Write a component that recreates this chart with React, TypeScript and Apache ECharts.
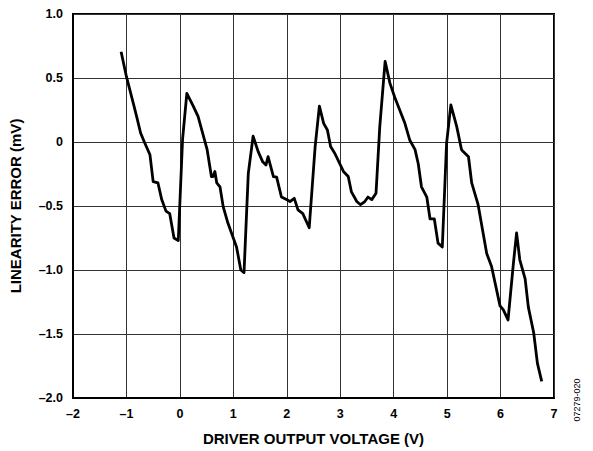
import React, { useEffect, useRef } from "react";
import * as echarts from "echarts";

const xValues = [
  -1.10, -1.0, -0.87, -0.81, -0.735, -0.655, -0.56, -0.50, -0.41, -0.34, -0.26, -0.19, -0.11, -0.03,
  0.05, 0.13, 0.25, 0.34, 0.51, 0.59, 0.62, 0.655, 0.69, 0.75, 0.81, 0.90, 1.06, 1.14, 1.20,
  1.28, 1.37, 1.465, 1.55, 1.61, 1.65, 1.75, 1.81, 1.90, 1.995, 2.06, 2.14, 2.21, 2.30, 2.42,
  2.53, 2.61, 2.69, 2.76, 2.82, 2.90, 3.06, 3.15, 3.21, 3.31, 3.38, 3.46, 3.52, 3.59, 3.67,
  3.74, 3.84, 3.93, 4.02, 4.21, 4.30, 4.40, 4.46, 4.52, 4.62, 4.68, 4.76, 4.83, 4.91,
  4.99, 5.07, 5.18, 5.27, 5.30, 5.40, 5.46, 5.58, 5.74, 5.83, 5.99, 6.05, 6.14,
  6.24, 6.30, 6.36, 6.46, 6.52, 6.62, 6.69, 6.77,
];
const errorValues = [
  0.705, 0.51, 0.30, 0.20, 0.07, -0.01, -0.10, -0.31, -0.32, -0.45, -0.54, -0.56, -0.75, -0.77,
  0.02, 0.38, 0.28, 0.20, -0.06, -0.27, -0.27, -0.23, -0.32, -0.35, -0.505, -0.635, -0.82, -1.0, -1.02,
  -0.245, 0.045, -0.075, -0.155, -0.18, -0.115, -0.27, -0.275, -0.43, -0.45, -0.465, -0.44, -0.53, -0.56, -0.67,
  -0.04, 0.28, 0.146, 0.094, -0.036, -0.09, -0.23, -0.27, -0.39, -0.465, -0.49, -0.465, -0.43, -0.45, -0.40,
  0.12, 0.63, 0.46, 0.35, 0.146, 0.016, -0.06, -0.17, -0.35, -0.43, -0.60, -0.60, -0.79, -0.82,
  -0.01, 0.29, 0.12, -0.06, -0.075, -0.115, -0.32, -0.49, -0.87, -0.97, -1.28, -1.31, -1.39,
  -0.95, -0.71, -0.92, -1.07, -1.29, -1.49, -1.73, -1.87,
];

const xTickLabels: Record<string, string> = {
  "-2": "\u20132", "-1": "\u20131", "0": "0", "1": "1", "2": "2", "3": "3", "4": "4", "5": "5", "6": "6", "7": "7",
};
const yTickLabels: Record<string, string> = {
  "1": "1.0", "0.5": "0.5", "0": "0", "-0.5": "\u20130.5", "-1": "\u20131.0", "-1.5": "\u20131.5", "-2": "\u20132.0",
};

const FONT = "'Liberation Sans', Arial, sans-serif";

export default function App() {
  const ref = useRef<HTMLDivElement>(null);
  useEffect(() => {
    if (!ref.current) return;
    const chart = echarts.init(ref.current, null, { renderer: "svg" });
    const data = xValues.map((x, i) => [x, errorValues[i]]);
    chart.setOption({
      animation: false,
      backgroundColor: "#fff",
      grid: {
        left: 73, right: 39, top: 14, bottom: 53,
        show: true, borderColor: "#000", borderWidth: 2, backgroundColor: "transparent",
      },
      xAxis: {
        type: "value", min: -2, max: 7, interval: 1,
        name: "DRIVER OUTPUT VOLTAGE (V)", nameLocation: "middle", nameGap: 33,
        nameTextStyle: { fontFamily: FONT, fontWeight: "bold", fontSize: 15, color: "#000" },
        axisLine: { show: true, onZero: false, lineStyle: { color: "#000", width: 2 } },
        axisTick: { show: false },
        axisLabel: {
          fontFamily: FONT, fontWeight: "bold", fontSize: 12.5, color: "#000", margin: 9,
          formatter: (v: number) => xTickLabels[String(v)] ?? String(v),
        },
        splitLine: { show: true, lineStyle: { color: "#333", width: 1 } },
      },
      yAxis: {
        type: "value", min: -2, max: 1, interval: 0.5,
        name: "LINEARITY ERROR (mV)", nameLocation: "middle", nameGap: 50,
        nameTextStyle: { fontFamily: FONT, fontWeight: "bold", fontSize: 15, color: "#000" },
        axisLine: { show: true, onZero: false, lineStyle: { color: "#000", width: 2 } },
        axisTick: { show: false },
        axisLabel: {
          fontFamily: FONT, fontWeight: "bold", fontSize: 12.5, color: "#000", margin: 10,
          formatter: (v: number) => yTickLabels[String(v)] ?? String(v),
        },
        splitLine: { show: true, lineStyle: { color: "#333", width: 1 } },
      },
      series: [
        {
          type: "line", data, showSymbol: false, symbol: "none",
          lineStyle: { color: "#000", width: 2.8, join: "round" },
        },
      ],
      graphic: [
        {
          type: "text", x: 577, y: 400, rotation: Math.PI / 2,
          style: {
            text: "07279-020", fontFamily: FONT, fontSize: 9, fill: "#000",
            align: "center", verticalAlign: "middle",
          },
        },
      ],
    });
    return () => chart.dispose();
  }, []);
  return <div ref={ref} style={{ width: 593, height: 451, position: "absolute", left: 0, top: 0 }} />;
}
